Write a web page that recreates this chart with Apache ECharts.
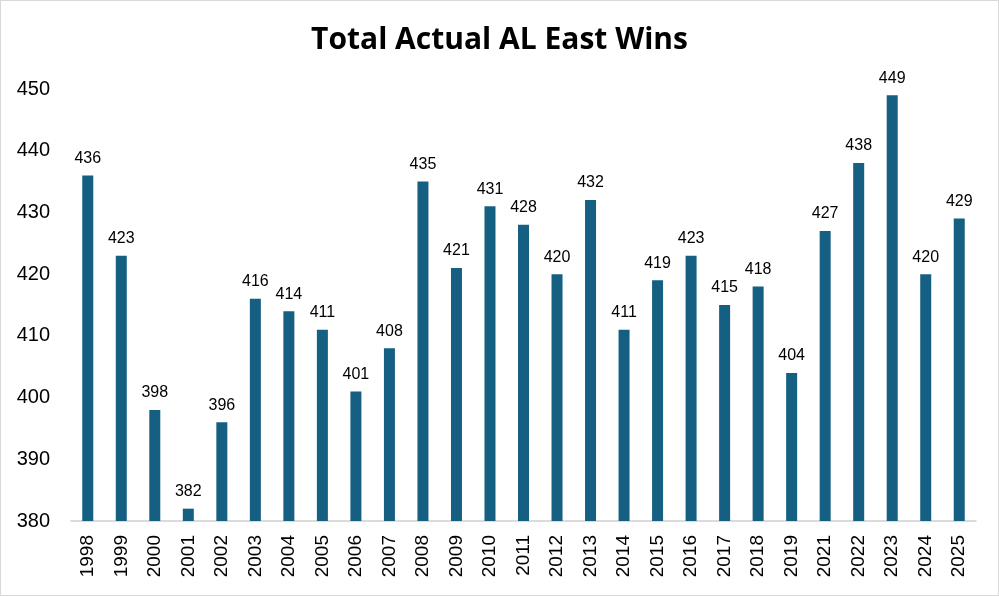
<!DOCTYPE html>
<html>
<head>
<meta charset="utf-8">
<script src="https://cdn.jsdelivr.net/npm/echarts@6/dist/echarts.min.js"></script>
<style>
  html, body { margin: 0; padding: 0; background: #fff; }
  #chart { width: 997px; height: 594px; border: 1px solid #d9d9d9; }
</style>
</head>
<body>
<div id="chart"></div>
<script>
// 2020 is absent in the source chart
const years = [
  '1998', '1999', '2000', '2001', '2002', '2003', '2004', '2005', '2006',
  '2007', '2008', '2009', '2010', '2011', '2012', '2013', '2014', '2015',
  '2016', '2017', '2018', '2019', '2021', '2022', '2023', '2024', '2025',
]
const wins = [
  436, 423, 398, 382, 396, 416, 414, 411, 401,
  408, 435, 421, 431, 428, 420, 432, 411, 419,
  423, 415, 418, 404, 427, 438, 449, 420, 429,
]
const yTicks = [380, 390, 400, 410, 420, 430, 440, 450]

const chart = echarts.init(document.getElementById('chart'))

const option = {
  animation: false,
  title: {
    text: 'Total Actual AL East Wins',
    left: 'center',
    top: 19,
    textStyle: {
      fontFamily: 'Open Sans',
      fontWeight: 'bold',
      fontSize: 30,
      color: '#000',
    },
  },
  grid: {
    left: 70,
    right: 22,
    top: 88,
    bottom: 74,
  },
  xAxis: {
    type: 'category',
    data: years,
    axisLine: { lineStyle: { color: '#d0d0d0', width: 1.5 } },
    axisTick: { show: false },
    axisLabel: {
      rotate: 90,
      interval: 0,
      fontFamily: 'Liberation Sans',
      fontSize: 19,
      color: '#000',
      margin: 14,
    },
  },
  yAxis: {
    type: 'value',
    min: yTicks[0],
    max: yTicks[yTicks.length - 1],
    interval: 10,
    axisLine: { show: false },
    axisTick: { show: false },
    splitLine: { show: false },
    axisLabel: {
      fontFamily: 'Liberation Sans',
      fontSize: 20,
      color: '#000',
      margin: 21,
    },
  },
  series: [
    {
      type: 'bar',
      data: wins,
      barWidth: 11,
      itemStyle: { color: '#156082' },
      label: {
        show: true,
        position: 'top',
        distance: 9,
        fontFamily: 'Liberation Sans',
        fontSize: 16,
        color: '#000',
      },
    },
  ],
}

chart.setOption(option)
</script>
</body>
</html>
